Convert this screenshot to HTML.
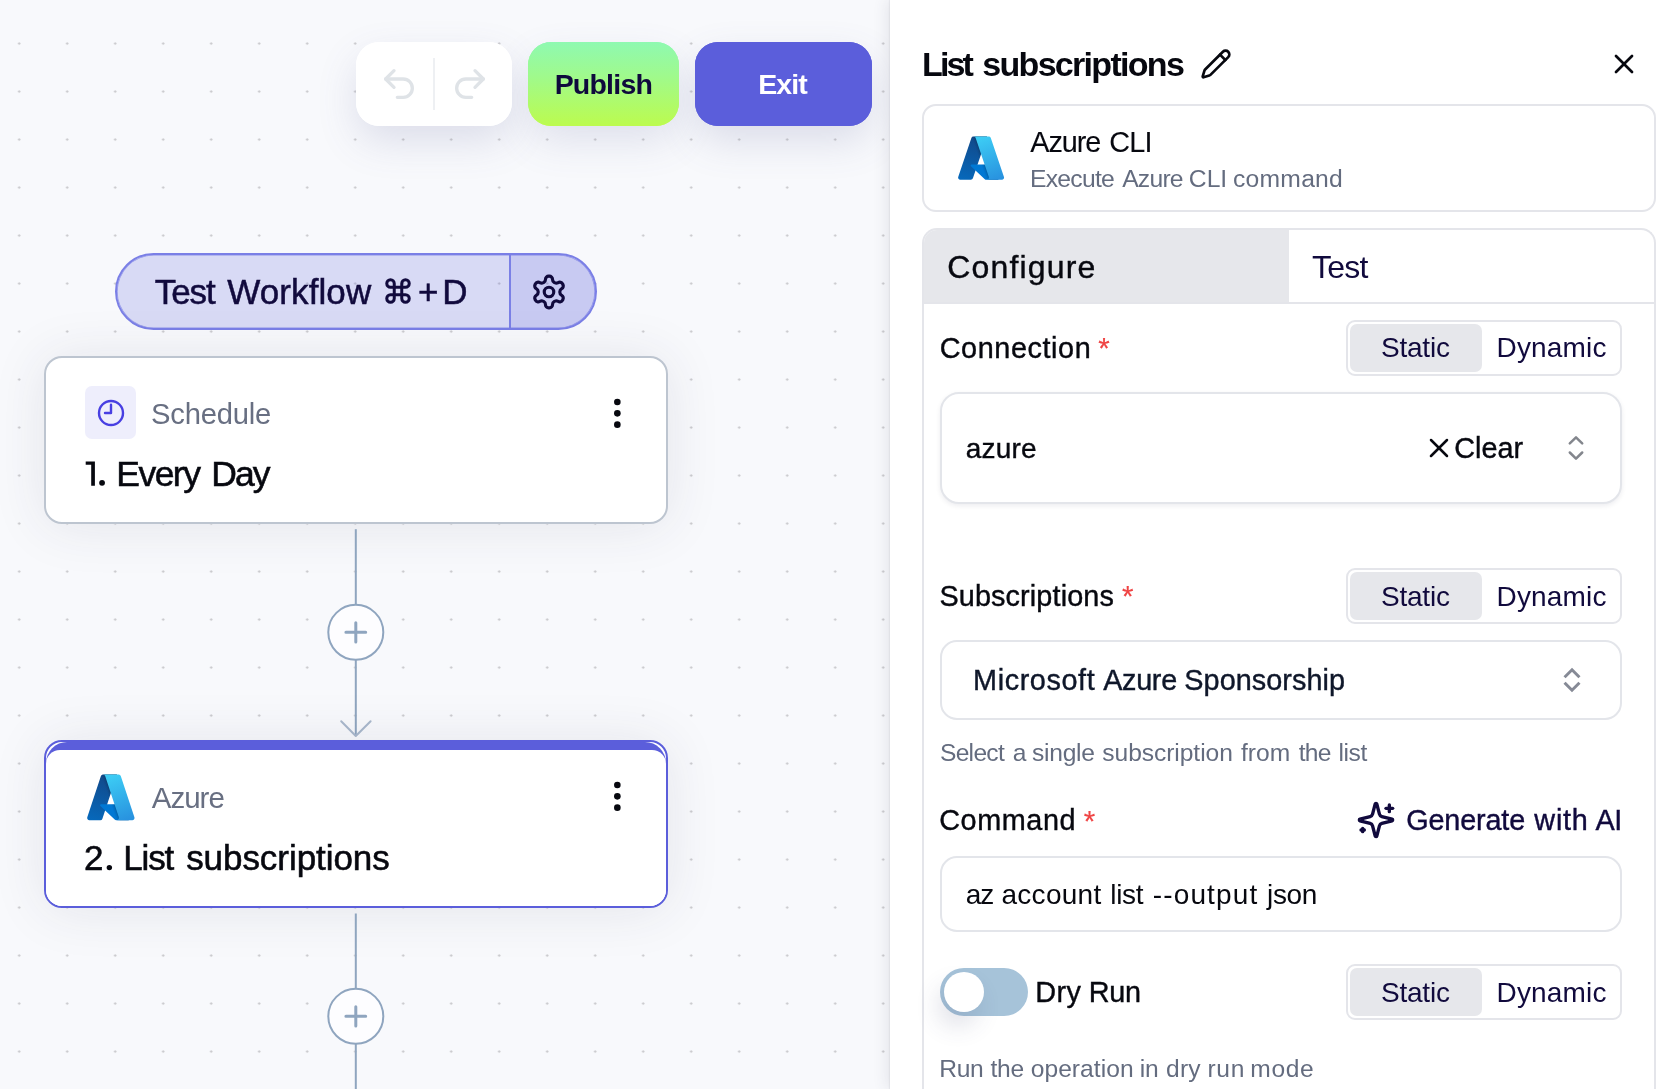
<!DOCTYPE html>
<html><head><meta charset="utf-8"><title>Workflow builder</title>
<style>
*{box-sizing:border-box;margin:0;padding:0}
html,body{width:1679px;height:1089px;overflow:hidden}
body{position:relative;font-family:"Liberation Sans",sans-serif;background:#f8f9fc;}
.abs{position:absolute}
.t{position:absolute;white-space:nowrap;line-height:1;font-family:"Liberation Sans",sans-serif;}
#canvas{position:absolute;left:0;top:0;width:890px;height:1089px;background-color:#f8f9fc;
 background-image:radial-gradient(circle at 1.5px 1.5px,#c6c6ca 0,#c6c6ca 0.8px,rgba(198,198,202,0) 1.5px);
 background-size:48px 48px;background-position:17.7px 42.05px;overflow:hidden}
#panel{position:absolute;left:890px;top:0;width:789px;height:1089px;background:#fff;box-shadow:-3px 0 14px rgba(60,62,90,0.11),-1px 0 1px rgba(60,62,90,0.06)}
.ur{left:356px;top:42px;width:156px;height:84px;border-radius:23px;background:#fff;box-shadow:0 16px 40px -2px rgba(90,95,150,0.18)}
.pub{left:528px;top:42px;width:151px;height:84px;border-radius:23px;background:linear-gradient(180deg,#8ef9b1 0%,#9ffa8d 40%,#bcfb4e 100%);box-shadow:0 16px 40px -2px rgba(90,95,150,0.16)}
.exit{left:695px;top:42px;width:177px;height:84px;border-radius:23px;background:#5b5edb;box-shadow:0 16px 40px -2px rgba(90,95,150,0.19)}
.pill{left:115px;top:253px;width:482px;height:77px;border-radius:39px;border:2px solid #7a7fe6;background:rgba(91,94,219,0.2);overflow:hidden;box-shadow:inset 0 0 0 0.6px rgba(122,127,230,0.8)}
.pill .r{position:absolute;left:391.5px;top:-2px;width:90px;height:80px;background:rgba(91,94,219,0.12);border-left:2px solid #7b80e6}
.card{left:44px;top:356.4px;width:624px;height:167.6px;border-radius:18px;border:2px solid #bdc5d0;background:#fff;box-shadow:0 2px 54px rgba(45,48,78,0.10)}
.card2{left:44px;top:740px;width:624px;height:168px;border-radius:18px;border:2px solid #5b5edb;background:#fff;overflow:hidden;box-shadow:0 2px 54px rgba(45,48,78,0.10)}
.card2 u{position:absolute;left:0;right:0;top:0;height:30px;background:#5b5edb;border-radius:21px 21px 0 0}
.card2 i{position:absolute;left:0;right:0;top:7.6px;bottom:0;background:#fff;border-radius:14px 14px 0 0}
.ibox{left:85px;top:386px;width:51px;height:53px;border-radius:7px;background:#eeeefc}
.pcard{left:922.2px;top:104.4px;width:733.4px;height:107.6px;border:2px solid #e4e5ea;border-radius:14px;background:#fff}
.tabs{left:922.3px;top:228.3px;width:733.4px;height:860.7px;border:2px solid #e4e5ea;border-bottom:0;border-radius:15px 15px 0 0;background:#fff;overflow:hidden}
.tabs .cfg{position:absolute;left:0;top:0;width:364.7px;height:71.3px;background:#e6e7eb}
.tabs .ln{position:absolute;left:0;right:0;top:71.3px;height:2px;background:#e4e5ea}
.seg{width:276px;height:56px;left:1346px;border:2px solid #e4e5ea;border-radius:9px;background:#fff}
.seg i{position:absolute;left:2px;top:2px;width:132px;height:48px;border-radius:7px;background:#e6e7eb}
.box{left:940px;width:682px;border:2px solid #e3e5ea;background:#fff}
.t b{position:absolute;top:0;font-weight:inherit;white-space:nowrap}
#tx{position:absolute;left:0;top:0;width:1679px;height:1089px;will-change:transform}
.ns{box-shadow:none !important}

</style></head>
<body>
<div id="canvas">
  <div class="abs ur sh"></div><div class="abs pub sh"></div><div class="abs exit sh"></div>
  <div class="abs ur ns"></div>
  <div class="abs" style="left:433px;top:58px;width:2px;height:52px;background:#eef0f3"></div>
  <svg class="abs" style="left:379px;top:64px" width="40" height="40" viewBox="0 0 24 24" fill="none" stroke="#dfe3e7" stroke-width="2" stroke-linecap="round" stroke-linejoin="round"><path d="M9 14 4 9l5-5"/><path d="M4 9h10.5a5.5 5.5 0 0 1 5.5 5.5a5.5 5.5 0 0 1-5.5 5.5H11"/></svg>
  <svg class="abs" style="left:450px;top:64px" width="40" height="40" viewBox="0 0 24 24" fill="none" stroke="#dfe3e7" stroke-width="2" stroke-linecap="round" stroke-linejoin="round"><path d="m15 14 5-5-5-5"/><path d="M20 9H9.5A5.5 5.5 0 0 0 4 14.5A5.5 5.5 0 0 0 9.5 20H13"/></svg>
  <div class="abs pub ns"></div>
  <div class="abs exit ns"></div>

  <div class="abs pill"><div class="r"></div></div>
  <svg class="abs" style="left:383.1px;top:275.9px" width="30" height="30" viewBox="0 0 24 24" fill="none" stroke="#110a3d" stroke-width="2.4" stroke-linecap="round" stroke-linejoin="round"><path d="M15 6v12a3 3 0 1 0 3-3H6a3 3 0 1 0 3 3V6a3 3 0 1 0-3 3h12a3 3 0 1 0-3-3"/></svg>
  <svg class="abs" style="left:530px;top:272.5px" width="38" height="38" viewBox="0 0 24 24" fill="none" stroke="#110a3d" stroke-width="2" stroke-linecap="round" stroke-linejoin="round"><path d="M12.22 2h-.44a2 2 0 0 0-2 2v.18a2 2 0 0 1-1 1.73l-.43.25a2 2 0 0 1-2 0l-.15-.08a2 2 0 0 0-2.73.73l-.22.38a2 2 0 0 0 .73 2.73l.15.1a2 2 0 0 1 1 1.72v.51a2 2 0 0 1-1 1.74l-.15.09a2 2 0 0 0-.73 2.73l.22.38a2 2 0 0 0 2.73.73l.15-.08a2 2 0 0 1 2 0l.43.25a2 2 0 0 1 1 1.73V20a2 2 0 0 0 2 2h.44a2 2 0 0 0 2-2v-.18a2 2 0 0 1 1-1.73l.43-.25a2 2 0 0 1 2 0l.15.08a2 2 0 0 0 2.73-.73l.22-.39a2 2 0 0 0-.73-2.73l-.15-.08a2 2 0 0 1-1-1.74v-.5a2 2 0 0 1 1-1.74l.15-.09a2 2 0 0 0 .73-2.73l-.22-.38a2 2 0 0 0-2.73-.73l-.15.08a2 2 0 0 1-2 0l-.43-.25a2 2 0 0 1-1-1.73V4a2 2 0 0 0-2-2z"/><circle cx="12" cy="12" r="3"/></svg>

  <div class="abs card"></div>
  <div class="abs ibox"></div>
  <svg class="abs" style="left:95.6px;top:397.8px" width="30" height="30" viewBox="0 0 30 30" fill="none" stroke="#483fe2" stroke-width="2.4" stroke-linecap="round" stroke-linejoin="round"><circle cx="15" cy="15" r="12"/><path d="M15 6.8V15H9"/></svg>
  <svg class="abs" style="left:598.15px;top:393.55px" width="38.7" height="38.7" viewBox="0 0 24 24" fill="#07080f"><circle cx="12" cy="12" r="2.05"/><circle cx="12" cy="5" r="2.05"/><circle cx="12" cy="19" r="2.05"/></svg>

  <svg class="abs" style="left:84px;top:459px" width="14" height="30" viewBox="0 0 14 30"><path d="M1.7 2.4H10.9V26.8H7.2V5.7H1.7Z" fill="#07080f"/></svg>
  <svg class="abs" style="left:97px;top:478px" width="10" height="10" viewBox="0 0 10 10"><circle cx="5.05" cy="4.85" r="2.9" fill="#07080f"/></svg>
  <!-- connector 1 -->
  <svg class="abs" style="left:316px;top:524px" width="80" height="220" viewBox="0 0 80 220" fill="none">
    <path d="M39.8 5.2V212" stroke="#8fa5bf" stroke-width="2"/>
    <path d="M25.2 197.2 39.8 212 54.6 197.2" stroke="#a9b8cc" stroke-width="2" stroke-linecap="round" stroke-linejoin="round"/>
    <circle cx="39.8" cy="108.3" r="27.5" fill="#fdfdff" stroke="#8fa5bf" stroke-width="2"/>
    <path d="M29.9 108.3H49.7M39.8 98.7V118" stroke="#8fa5bf" stroke-width="3" stroke-linecap="round"/>
  </svg>

  <div class="abs card2"><u></u><i></i></div>
  <svg class="abs" style="left:104px;top:862px" width="10" height="10" viewBox="0 0 10 10"><circle cx="5.35" cy="5.6" r="2.7" fill="#07080f"/></svg>
  <svg class="abs" style="left:598.15px;top:777.3px" width="38.7" height="38.7" viewBox="0 0 24 24" fill="#07080f"><circle cx="12" cy="12" r="2.05"/><circle cx="12" cy="5" r="2.05"/><circle cx="12" cy="19" r="2.05"/></svg>
  <svg class="abs" style="left:84.7px;top:770.7px" width="51.7" height="52.8" viewBox="0 0 96 96" preserveAspectRatio="none">
<defs>
<linearGradient id="z1a" x1="-1032.172" x2="-1059.213" y1="145.312" y2="65.426" gradientTransform="matrix(1 0 0 -1 1075 158)" gradientUnits="userSpaceOnUse"><stop offset="0" stop-color="#114a8b"/><stop offset="1" stop-color="#0669bc"/></linearGradient>
<linearGradient id="z1b" x1="-1023.725" x2="-1029.98" y1="108.083" y2="105.968" gradientTransform="matrix(1 0 0 -1 1075 158)" gradientUnits="userSpaceOnUse"><stop offset="0" stop-opacity=".3"/><stop offset=".071" stop-opacity=".2"/><stop offset=".321" stop-opacity=".1"/><stop offset=".623" stop-opacity=".05"/><stop offset="1" stop-opacity="0"/></linearGradient>
<linearGradient id="z1c" x1="-1027.165" x2="-997.482" y1="147.642" y2="68.561" gradientTransform="matrix(1 0 0 -1 1075 158)" gradientUnits="userSpaceOnUse"><stop offset="0" stop-color="#3ccbf4"/><stop offset="1" stop-color="#2892df"/></linearGradient>
</defs>
<path fill="url(#z1a)" d="M33.338 6.544h26.038l-27.03 80.087a4.152 4.152 0 0 1-3.933 2.824H8.149a4.145 4.145 0 0 1-3.928-5.47L29.404 9.368a4.152 4.152 0 0 1 3.934-2.825z"/>
<path fill="#0078d4" d="M71.175 60.261h-41.29a1.911 1.911 0 0 0-1.305 3.309l26.532 24.764a4.171 4.171 0 0 0 2.846 1.121h23.38z"/>
<path fill="url(#z1b)" d="M33.338 6.544a4.118 4.118 0 0 0-3.943 2.879L4.252 83.917a4.14 4.14 0 0 0 3.908 5.538h20.787a4.443 4.443 0 0 0 3.41-2.9l5.014-14.777 17.91 16.705a4.237 4.237 0 0 0 2.666.972H81.24L71.024 60.261l-29.781.007L59.47 6.544z"/>
<path fill="url(#z1c)" d="M66.595 9.364a4.145 4.145 0 0 0-3.928-2.82H33.648a4.146 4.146 0 0 1 3.928 2.82l25.184 74.62a4.146 4.146 0 0 1-3.928 5.472h29.02a4.146 4.146 0 0 0 3.927-5.472z"/>
</svg>

  <!-- connector 2 -->
  <svg class="abs" style="left:316px;top:908px" width="80" height="181" viewBox="0 0 80 181" fill="none">
    <path d="M39.8 5.5V181" stroke="#8fa5bf" stroke-width="2"/>
    <circle cx="39.8" cy="108.3" r="27.5" fill="#fdfdff" stroke="#8fa5bf" stroke-width="2"/>
    <path d="M29.9 108.3H49.7M39.8 98.7V118" stroke="#8fa5bf" stroke-width="3" stroke-linecap="round"/>
  </svg>
</div>
<div id="panel"></div>
<svg class="abs" style="left:1199.7px;top:47.8px" width="32" height="32" viewBox="0 0 24 24" fill="none" stroke="#07080f" stroke-width="2" stroke-linecap="round" stroke-linejoin="round"><path d="M21.174 6.812a1 1 0 0 0-3.986-3.987L3.842 16.174a2 2 0 0 0-.5.83l-1.321 4.352a.5.5 0 0 0 .623.622l4.353-1.32a2 2 0 0 0 .83-.497z"/><path d="m15 5 4 4"/></svg>
<svg class="abs" style="left:1608px;top:48px" width="32" height="32" viewBox="0 0 24 24" fill="none" stroke="#07080f" stroke-width="2" stroke-linecap="round" stroke-linejoin="round"><path d="M18 6 6 18"/><path d="m6 6 12 12"/></svg>
<div class="abs pcard"></div>
<svg class="abs" style="left:955.9px;top:132.6px" width="50.2" height="50.2" viewBox="0 0 96 96" preserveAspectRatio="none">
<defs>
<linearGradient id="z2a" x1="-1032.172" x2="-1059.213" y1="145.312" y2="65.426" gradientTransform="matrix(1 0 0 -1 1075 158)" gradientUnits="userSpaceOnUse"><stop offset="0" stop-color="#114a8b"/><stop offset="1" stop-color="#0669bc"/></linearGradient>
<linearGradient id="z2b" x1="-1023.725" x2="-1029.98" y1="108.083" y2="105.968" gradientTransform="matrix(1 0 0 -1 1075 158)" gradientUnits="userSpaceOnUse"><stop offset="0" stop-opacity=".3"/><stop offset=".071" stop-opacity=".2"/><stop offset=".321" stop-opacity=".1"/><stop offset=".623" stop-opacity=".05"/><stop offset="1" stop-opacity="0"/></linearGradient>
<linearGradient id="z2c" x1="-1027.165" x2="-997.482" y1="147.642" y2="68.561" gradientTransform="matrix(1 0 0 -1 1075 158)" gradientUnits="userSpaceOnUse"><stop offset="0" stop-color="#3ccbf4"/><stop offset="1" stop-color="#2892df"/></linearGradient>
</defs>
<path fill="url(#z2a)" d="M33.338 6.544h26.038l-27.03 80.087a4.152 4.152 0 0 1-3.933 2.824H8.149a4.145 4.145 0 0 1-3.928-5.47L29.404 9.368a4.152 4.152 0 0 1 3.934-2.825z"/>
<path fill="#0078d4" d="M71.175 60.261h-41.29a1.911 1.911 0 0 0-1.305 3.309l26.532 24.764a4.171 4.171 0 0 0 2.846 1.121h23.38z"/>
<path fill="url(#z2b)" d="M33.338 6.544a4.118 4.118 0 0 0-3.943 2.879L4.252 83.917a4.14 4.14 0 0 0 3.908 5.538h20.787a4.443 4.443 0 0 0 3.41-2.9l5.014-14.777 17.91 16.705a4.237 4.237 0 0 0 2.666.972H81.24L71.024 60.261l-29.781.007L59.47 6.544z"/>
<path fill="url(#z2c)" d="M66.595 9.364a4.145 4.145 0 0 0-3.928-2.82H33.648a4.146 4.146 0 0 1 3.928 2.82l25.184 74.62a4.146 4.146 0 0 1-3.928 5.472h29.02a4.146 4.146 0 0 0 3.927-5.472z"/>
</svg>
<div class="abs tabs"><div class="cfg"></div><div class="ln"></div></div>

<!-- Connection -->
<div class="abs seg" style="top:320px"><i></i></div>
<div class="abs box" style="top:392px;height:112px;border-radius:19px;box-shadow:0 2px 5px rgba(20,20,60,0.075)"></div>
<svg class="abs" style="left:1423px;top:432px" width="32" height="32" viewBox="0 0 24 24" fill="none" stroke="#07080f" stroke-width="1.9" stroke-linecap="round" stroke-linejoin="round"><path d="M18 6 6 18"/><path d="m6 6 12 12"/></svg>
<svg class="abs" style="left:1556px;top:428px" width="40" height="40" viewBox="0 0 40 40" fill="none" stroke="#83868d" stroke-width="2.5" stroke-linecap="round" stroke-linejoin="round"><path d="M13.8 15.4 20 9.4l6.2 6"/><path d="M13.8 24.5 20 30.7l6.2-6.2"/></svg>

<!-- Subscriptions -->
<div class="abs seg" style="top:568px"><i></i></div>
<div class="abs box" style="top:640px;height:80px;border-radius:17px"></div>
<svg class="abs" style="left:1552px;top:660px" width="40" height="40" viewBox="0 0 40 40" fill="none" stroke="#868a96" stroke-width="3" stroke-linecap="square" stroke-linejoin="miter"><path d="M13.6 16.2 20 9.8l6.4 6.4"/><path d="M13.6 23.8 20 30.2l6.4-6.4"/></svg>

<!-- Command -->
<svg class="abs" style="left:1356px;top:800px" width="40" height="40" viewBox="0 0 24 24" fill="none" stroke="#110a3d" stroke-width="2" stroke-linecap="round" stroke-linejoin="round"><path d="M9.937 15.5A2 2 0 0 0 8.5 14.063l-6.135-1.582a.5.5 0 0 1 0-.962L8.5 9.936A2 2 0 0 0 9.937 8.5l1.582-6.135a.5.5 0 0 1 .963 0L14.063 8.5A2 2 0 0 0 15.5 9.937l6.135 1.581a.5.5 0 0 1 0 .964L15.5 14.063a2 2 0 0 0-1.437 1.437l-1.582 6.135a.5.5 0 0 1-.963 0z"/><path d="M20 3v4"/><path d="M22 5h-4"/><path d="M4 17v2"/><path d="M5 18H3"/></svg>
<div class="abs box" style="top:856px;height:76px;border-radius:17px"></div>

<!-- Dry run -->
<div class="abs" style="left:940px;top:968px;width:88px;height:48px;border-radius:24px;background:#a6c3d9"></div>
<div class="abs" style="left:944px;top:972px;width:40px;height:40px;border-radius:20px;background:#fff;box-shadow:-6px 14px 24px rgba(60,70,110,0.16)"></div>
<div class="abs seg" style="top:964px"><i></i></div>


<div id="tx">
<span class="t" style="left:556.40px;top:70.00px;font-size:28.5px;font-weight:700;color:#0f0a3c;letter-spacing:-0.777px;margin-left:-1.78px;">Publish</span>
<span class="t" style="left:760.00px;top:70.00px;font-size:28.5px;font-weight:700;color:#ffffff;letter-spacing:-0.916px;margin-left:-1.78px;">Exit</span>
<span class="t" style="left:155.40px;top:274.00px;font-size:35px;font-weight:400;color:#110a3d;-webkit-text-stroke:0.5px #110a3d;"><b style="left:-0.55px;letter-spacing:-1.121px">Test</b> <b style="left:71.90px;letter-spacing:0.087px">Workflow</b></span>
<span class="t" style="left:419.50px;top:274.00px;font-size:35px;font-weight:400;color:#110a3d;-webkit-text-stroke:0.5px #110a3d;letter-spacing:0.000px;margin-left:-1.64px;">+</span>
<span class="t" style="left:444.90px;top:274.00px;font-size:35px;font-weight:400;color:#110a3d;-webkit-text-stroke:0.5px #110a3d;letter-spacing:0.000px;margin-left:-2.73px;">D</span>
<span class="t" style="left:152.00px;top:400.00px;font-size:29.2px;font-weight:400;color:#686f82;letter-spacing:-0.238px;margin-left:-0.91px;">Schedule</span>
<span class="t" style="left:85.70px;top:457.00px;font-size:35.5px;font-weight:400;color:#07080f;-webkit-text-stroke:0.55px #07080f;"><b style="left:-1.23px;transform:scaleX(0.553);transform-origin:0 0;font-weight:700;-webkit-text-stroke:0;color:transparent">1</b> <b style="left:10.63px;color:transparent;-webkit-text-stroke:0">.</b> <b style="left:30.63px;letter-spacing:-1.542px">Every</b> <b style="left:125.53px;letter-spacing:-1.878px">Day</b></span>
<span class="t" style="left:151.70px;top:783.00px;font-size:29.5px;font-weight:400;color:#686f82;letter-spacing:-0.967px;margin-left:0.00px;">Azure</span>
<span class="t" style="left:85.70px;top:840.00px;font-size:35px;font-weight:400;color:#07080f;-webkit-text-stroke:0.55px #07080f;"><b style="left:-1.64px;letter-spacing:0.000px">2</b> <b style="left:18.27px;color:transparent;-webkit-text-stroke:0">.</b> <b style="left:37.67px;letter-spacing:-1.217px">List</b> <b style="left:100.45px;letter-spacing:-0.051px">subscriptions</b></span>
<span class="t" style="left:924.20px;top:47.00px;font-size:34px;font-weight:700;color:#07080f;"><b style="left:-2.12px;letter-spacing:-2.885px">List</b> <b style="left:58.14px;letter-spacing:-1.699px">subscriptions</b></span>
<span class="t" style="left:1030.30px;top:128.00px;font-size:28.8px;font-weight:400;color:#07080f;-webkit-text-stroke:0.1px #07080f;"><b style="left:0.00px;letter-spacing:-1.067px">Azure</b> <b style="left:78.95px;letter-spacing:-0.833px">CLI</b></span>
<span class="t" style="left:1031.90px;top:167.00px;font-size:24.7px;font-weight:400;color:#646c7f;"><b style="left:-1.93px;letter-spacing:-0.720px">Execute</b> <b style="left:90.30px;letter-spacing:-0.781px">Azure</b> <b style="left:156.94px;letter-spacing:-0.024px">CLI</b> <b style="left:201.13px;letter-spacing:0.235px">command</b></span>
<span class="t" style="left:948.70px;top:251.00px;font-size:32px;font-weight:400;color:#07080f;-webkit-text-stroke:0.4px #07080f;letter-spacing:1.168px;margin-left:-1.50px;">Configure</span>
<span class="t" style="left:1312.60px;top:251.00px;font-size:32px;font-weight:400;color:#110a3d;letter-spacing:-0.766px;margin-left:-0.50px;">Test</span>
<span class="t" style="left:941.00px;top:334.00px;font-size:28.8px;font-weight:400;color:#07080f;-webkit-text-stroke:0.4px #07080f;letter-spacing:0.596px;margin-left:-1.35px;">Connection</span>
<span class="t" style="left:1381.80px;top:334.00px;font-size:28px;font-weight:400;color:#110a3d;letter-spacing:-0.203px;margin-left:-0.88px;">Static</span>
<span class="t" style="left:1498.70px;top:334.00px;font-size:28px;font-weight:400;color:#110a3d;letter-spacing:0.169px;margin-left:-2.19px;">Dynamic</span>
<span class="t" style="left:966.50px;top:435.00px;font-size:28px;font-weight:400;color:#07080f;-webkit-text-stroke:0.4px #07080f;letter-spacing:0.242px;margin-left:-0.88px;">azure</span>
<span class="t" style="left:1455.70px;top:434.00px;font-size:28.8px;font-weight:400;color:#07080f;-webkit-text-stroke:0.4px #07080f;letter-spacing:-0.033px;margin-left:-1.35px;">Clear</span>
<span class="t" style="left:940.30px;top:582.00px;font-size:28.8px;font-weight:400;color:#07080f;-webkit-text-stroke:0.4px #07080f;letter-spacing:0.135px;margin-left:-0.90px;">Subscriptions</span>
<span class="t" style="left:1381.80px;top:583.00px;font-size:28px;font-weight:400;color:#110a3d;letter-spacing:-0.203px;margin-left:-0.88px;">Static</span>
<span class="t" style="left:1498.70px;top:583.00px;font-size:28px;font-weight:400;color:#110a3d;letter-spacing:0.169px;margin-left:-2.19px;">Dynamic</span>
<span class="t" style="left:975.30px;top:666.00px;font-size:28.8px;font-weight:400;color:#0f172a;-webkit-text-stroke:0.4px #0f172a;"><b style="left:-2.25px;letter-spacing:0.604px">Microsoft</b> <b style="left:127.90px;letter-spacing:-0.317px">Azure</b> <b style="left:209.00px;letter-spacing:0.057px">Sponsorship</b></span>
<span class="t" style="left:940.70px;top:741.00px;font-size:24.6px;font-weight:400;color:#646c7f;"><b style="left:-0.77px;letter-spacing:-0.697px">Select</b> <b style="left:72.13px;letter-spacing:0.000px">a</b> <b style="left:91.32px;letter-spacing:-0.259px">single</b> <b style="left:161.62px;letter-spacing:-0.063px">subscription</b> <b style="left:300.20px;letter-spacing:0.091px">from</b> <b style="left:358.10px;letter-spacing:-0.800px">the</b> <b style="left:397.86px;letter-spacing:-0.437px">list</b></span>
<span class="t" style="left:940.50px;top:806.00px;font-size:28.8px;font-weight:400;color:#07080f;-webkit-text-stroke:0.4px #07080f;letter-spacing:0.586px;margin-left:-1.35px;">Command</span>
<span class="t" style="left:1407.50px;top:806.00px;font-size:28.8px;font-weight:400;color:#110a3d;-webkit-text-stroke:0.4px #110a3d;"><b style="left:-1.35px;letter-spacing:-0.152px">Generate</b> <b style="left:126.85px;letter-spacing:0.751px">with</b> <b style="left:188.00px;letter-spacing:-0.509px">AI</b></span>
<span class="t" style="left:966.70px;top:881.00px;font-size:28px;font-weight:400;color:#07080f;"><b style="left:-0.88px;letter-spacing:-1.185px">az</b> <b style="left:34.82px;letter-spacing:0.268px">account</b> <b style="left:143.55px;letter-spacing:-0.289px">list</b> <b style="left:186.12px;letter-spacing:1.126px">--output</b> <b style="left:300.38px;letter-spacing:-0.389px">json</b></span>
<span class="t" style="left:1037.40px;top:978.00px;font-size:28.8px;font-weight:400;color:#07080f;-webkit-text-stroke:0.4px #07080f;"><b style="left:-2.25px;letter-spacing:0.530px">Dry</b> <b style="left:51.35px;letter-spacing:-0.283px">Run</b></span>
<span class="t" style="left:1381.80px;top:979.00px;font-size:28px;font-weight:400;color:#110a3d;letter-spacing:-0.203px;margin-left:-0.88px;">Static</span>
<span class="t" style="left:1498.70px;top:979.00px;font-size:28px;font-weight:400;color:#110a3d;letter-spacing:0.169px;margin-left:-2.19px;">Dynamic</span>
<span class="t" style="left:941.20px;top:1057.00px;font-size:24.6px;font-weight:400;color:#646c7f;"><b style="left:-1.92px;letter-spacing:-0.412px">Run</b> <b style="left:49.30px;letter-spacing:-0.250px">the</b> <b style="left:89.53px;letter-spacing:0.046px">operation</b> <b style="left:198.56px;letter-spacing:-0.228px">in</b> <b style="left:224.83px;letter-spacing:0.198px">dry</b> <b style="left:266.26px;letter-spacing:0.682px">run</b> <b style="left:309.16px;letter-spacing:0.633px">mode</b></span>
<span class="t" style="left:1098.70px;top:333.00px;font-size:29.5px;font-weight:400;color:#ef4444;-webkit-text-stroke:0.2px #ef4444;letter-spacing:0.000px;margin-left:-0.46px;">*</span>
<span class="t" style="left:1122.50px;top:581.00px;font-size:29.5px;font-weight:400;color:#ef4444;-webkit-text-stroke:0.2px #ef4444;letter-spacing:0.000px;margin-left:-0.46px;">*</span>
<span class="t" style="left:1084.10px;top:806.00px;font-size:29.5px;font-weight:400;color:#ef4444;-webkit-text-stroke:0.2px #ef4444;letter-spacing:0.000px;margin-left:-0.46px;">*</span>
</div>
</body></html>
